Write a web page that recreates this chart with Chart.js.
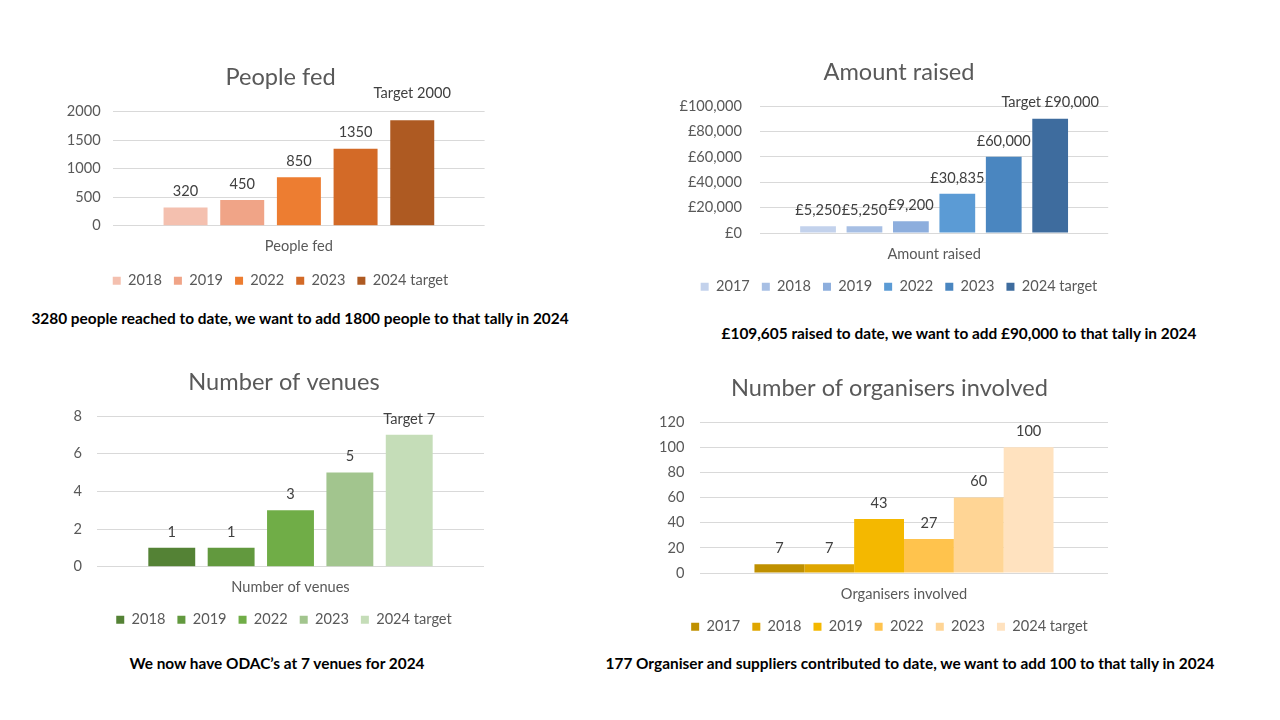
<!DOCTYPE html>
<html><head><meta charset="utf-8">
<script src="https://cdn.jsdelivr.net/npm/chart.js@4.4.1/dist/chart.umd.min.js"></script>
<style>
html,body{margin:0;padding:0;background:#fff;width:1280px;height:720px;overflow:hidden;position:relative;font-family:Lato,sans-serif}
canvas{position:absolute}
.cap{position:absolute;font-weight:bold;font-size:15.4px;color:#000;white-space:nowrap;transform:translate(-50%,-50%);font-family:Lato,sans-serif}
</style></head><body>
<canvas id="c1" width="481" height="248" style="left:40px;top:50px"></canvas>
<canvas id="c2" width="478" height="259" style="left:660px;top:45px"></canvas>
<canvas id="c3" width="488" height="277" style="left:40px;top:360px"></canvas>
<canvas id="c4" width="539" height="279" style="left:620px;top:365px"></canvas>
<div class="cap" style="left:300px;top:318px">3280 people reached to date, we want to add 1800 people to that tally in 2024</div>
<div class="cap" style="left:959px;top:333px">£109,605 raised to date, we want to add £90,000 to that tally in 2024</div>
<div class="cap" style="left:277px;top:663px">We now have ODAC’s at 7 venues for 2024</div>
<div class="cap" style="left:910px;top:663px">177 Organiser and suppliers contributed to date, we want to add 100 to that tally in 2024</div>
<script>
// ---- data ----
const peopleCategory = ['People fed'];
const peopleYears = ['2018','2019','2022','2023','2024 target'];
const peopleValues = [320, 450, 850, 1350, 1850];
const peopleLabels = ['320','450','850','1350','Target 2000'];

const raisedCategory = ['Amount raised'];
const raisedYears = ['2017','2018','2019','2022','2023','2024 target'];
const raisedValues = [5250, 5250, 9200, 30835, 60000, 90000];
const raisedLabels = ['£5,250','£5,250','£9,200','£30,835','£60,000','Target £90,000'];

const venuesCategory = ['Number of venues'];
const venuesYears = ['2018','2019','2022','2023','2024 target'];
const venuesValues = [1, 1, 3, 5, 7];
const venuesLabels = ['1','1','3','5','Target 7'];

const orgCategory = ['Organisers involved'];
const orgYears = ['2017','2018','2019','2022','2023','2024 target'];
const orgValues = [7, 7, 43, 27, 60, 100];
const orgLabels = ['7','7','43','27','60','100'];

// ---- styles ----
const peopleColors = ['#F4C0AF','#F0A487','#ED7D31','#D36A27','#AE5A22'];
const raisedColors = ['#C3D2EC','#A7BFE4','#8DAEDD','#5B9BD5','#4A86C0','#3E6C9E'];
const venuesColors = ['#548235','#62993E','#70AD47','#A2C58E','#C5DDB8'];
const orgColors = ['#BF9000','#DFA600','#F4B800','#FFC34D','#FFD595','#FFE2BF'];

Chart.defaults.font.family = 'Lato, sans-serif';
const GREY = '#595959';
const FS = 14.6;

const valueLabels = {
  id: 'valueLabels',
  afterDatasetsDraw(chart, args, opts) {
    const ctx = chart.ctx;
    ctx.save();
    ctx.font = FS + 'px Lato, sans-serif';
    ctx.fillStyle = '#404040';
    ctx.textAlign = 'center';
    ctx.textBaseline = 'middle';
    chart.data.datasets.forEach((ds, i) => {
      const el = chart.getDatasetMeta(i).data[0];
      const extra = (opts.extra && opts.extra[i]) || 0;
      ctx.fillText(opts.texts[i], el.x, el.y - opts.gap - extra);
    });
    ctx.restore();
  }
};

function makeChart(id, c) {
  const datasets = c.years.map((y, i) => ({ label: y, data: [c.values[i]], backgroundColor: c.colors[i], borderWidth: 0 }));
  new Chart(document.getElementById(id), {
    type: 'bar',
    data: { labels: c.category, datasets },
    plugins: [valueLabels],
    options: {
      responsive: false, animation: false, devicePixelRatio: 1,
      layout: { padding: 0 },
      datasets: { bar: { categoryPercentage: c.cp, barPercentage: c.bp } },
      plugins: {
        title: { display: true, text: c.title, color: GREY, font: { size: 23.6, weight: 'normal' }, padding: { top: c.pt, bottom: c.pb } },
        legend: { position: 'bottom', labels: { boxWidth: 8, boxHeight: 8, padding: c.lp, color: GREY, font: { size: FS } } },
        tooltip: { enabled: false },
        valueLabels: { texts: c.labels, gap: 16, extra: c.extra }
      },
      scales: {
        x: {
          grid: { display: false, drawTicks: false }, border: { display: false },
          ticks: { color: GREY, font: { size: FS }, padding: c.catPad },
          afterFit(s) { s.height = c.hx; }
        },
        y: {
          min: 0, max: c.max,
          ticks: { stepSize: c.step, color: GREY, font: { size: FS }, padding: c.ypad, callback: c.fmt || (v => v) },
          grid: { color: '#D9D9D9', drawTicks: false, lineWidth: 1 },
          border: { display: false },
          afterFit(s) { s.width = c.yw; }
        },
        y2: {
          position: 'right', display: true,
          grid: { display: false, drawTicks: false }, border: { display: false },
          ticks: { display: false },
          afterFit(s) { s.width = c.y2w; }
        }
      }
    }
  });
}

makeChart('c1', {
  category: peopleCategory, years: peopleYears, values: peopleValues, labels: peopleLabels, colors: peopleColors,
  title: 'People fed', pt: 12.84, pb: 20.54, lp: 12, hx: 35.7, catPad: 12.24,
  yw: 73.2, y2w: 36.4, ypad: 12.5, max: 2000, step: 500, cp: 0.763, bp: 0.776, extra: { 4: 11 }
});
makeChart('c2', {
  category: raisedCategory, years: raisedYears, values: raisedValues, labels: raisedLabels, colors: raisedColors,
  title: 'Amount raised', pt: 12.84, pb: 19.84, lp: 12, hx: 34.4, catPad: 12.94,
  yw: 100, y2w: 29.8, ypad: 18, max: 100000, step: 20000, cp: 0.8, bp: 0.77,
  fmt: v => '£' + v.toLocaleString('en-GB')
});
makeChart('c3', {
  category: venuesCategory, years: venuesYears, values: venuesValues, labels: venuesLabels, colors: venuesColors,
  title: 'Number of venues', pt: 7.84, pb: 19.84, lp: 12, hx: 33.7, catPad: 12.24,
  yw: 57, y2w: 44, ypad: 15, max: 8, step: 2, cp: 0.767, bp: 0.79
});
makeChart('c4', {
  category: orgCategory, years: orgYears, values: orgValues, labels: orgLabels, colors: orgColors,
  title: 'Number of organisers involved', pt: 8.84, pb: 19.84, lp: 12, hx: 34.4, catPad: 12.94,
  yw: 80, y2w: 51, ypad: 15.5, max: 120, step: 20, cp: 0.733, bp: 1.0
});
</script>
</body></html>
